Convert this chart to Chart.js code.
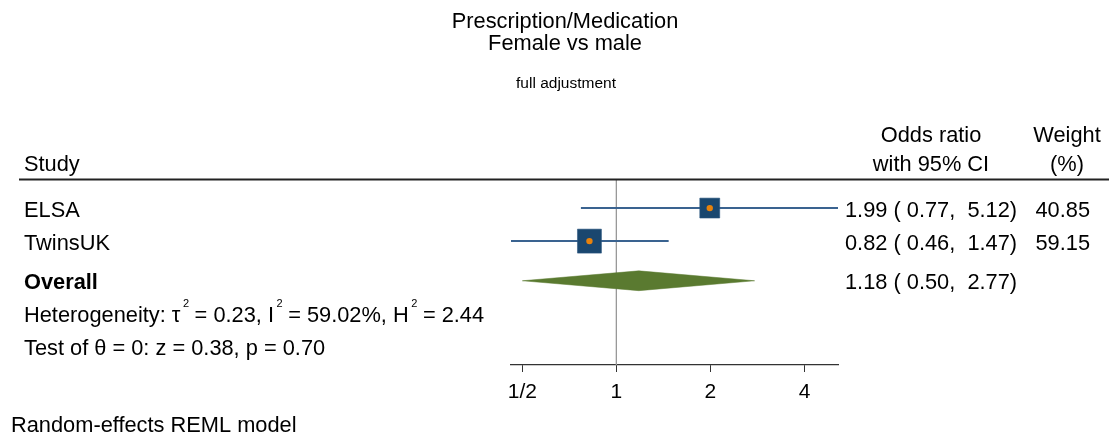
<!DOCTYPE html>
<html>
<head>
<meta charset="utf-8">
<script src="https://cdn.jsdelivr.net/npm/chart.js@4.4.1/dist/chart.umd.min.js"></script>
<style>
  html, body { margin: 0; padding: 0; background: #fff; }
  #wrap { width: 1109px; height: 440px; }
</style>
</head>
<body>
<div id="wrap"><canvas id="forest"></canvas></div>
<script>
// study rows
const studies = ['ELSA', 'TwinsUK'];
const oddsRatio = [1.99, 0.82];
const ciLow = [0.77, 0.46];
const ciHigh = [5.12, 1.47];
const weights = [40.85, 59.15];

// pooled estimate
const overallOR = 1.18;
const overallLow = 0.50;
const overallHigh = 2.77;

// heterogeneity + test stats
const tau2 = '0.23', iSq = '59.02', hSq = '2.44';
const zStat = '0.38', pValue = '0.70';

// axis
const tickValues = [0.5, 1, 2, 4];
const tickLabels = ['1/2', '1', '2', '4'];
const xMin = 0.46, xMax = 5.12;

const FONT = '"Liberation Sans", Arial, sans-serif';
const NAVY = '#1a476f';
const LINE_BLUE = '#3a6390';
const ORANGE = '#e8820c';
const GREEN = '#5a7a30';

const rowY = [1, 2];
const overallRow = 3.2;

function ciDataset(i) {
  return {
    type: 'scatter',
    data: [{ x: ciLow[i], y: rowY[i] }, { x: ciHigh[i], y: rowY[i] }],
    showLine: true,
    borderColor: LINE_BLUE,
    borderWidth: 2,
    pointRadius: 0,
    order: 4
  };
}

const datasets = [
  {
    // reference line at OR = 1
    type: 'scatter',
    data: [{ x: 1, y: 0.15 }, { x: 1, y: 5.75 }],
    showLine: true,
    borderColor: '#9a9a9a',
    borderWidth: 1,
    pointRadius: 0,
    order: 6
  },
  ...studies.map((s, i) => ciDataset(i)),
  {
    // overall diamond
    type: 'scatter',
    data: [
      { x: overallLow, y: overallRow },
      { x: overallOR, y: overallRow - 0.3 },
      { x: overallHigh, y: overallRow },
      { x: overallOR, y: overallRow + 0.3 },
      { x: overallLow, y: overallRow }
    ],
    showLine: true,
    fill: 'shape',
    backgroundColor: GREEN,
    borderColor: GREEN,
    borderWidth: 0.5,
    tension: 0,
    pointRadius: 0,
    order: 3
  },
  {
    // weight squares
    type: 'scatter',
    data: studies.map((s, i) => ({ x: oddsRatio[i], y: rowY[i] })),
    pointStyle: 'rect',
    pointRadius: weights.map(w => 2.2 * Math.sqrt(w)),
    backgroundColor: NAVY,
    borderColor: '#2c5680',
    borderWidth: 0.6,
    order: 2
  },
  {
    type: 'scatter',
    data: studies.map((s, i) => ({ x: oddsRatio[i], y: rowY[i] })),
    pointRadius: 3.2,
    backgroundColor: ORANGE,
    borderWidth: 0,
    order: 1
  }
];

function drawText(ctx, str, x, y, size, align, bold) {
  ctx.font = (bold ? 'bold ' : '') + size + 'px ' + FONT;
  ctx.textAlign = align || 'left';
  ctx.textBaseline = 'alphabetic';
  ctx.fillText(str, x, y);
}

// text with superscripts: pieces = [[text, isSup], ...]
function drawRich(ctx, pieces, x, y, size) {
  let cx = x;
  ctx.textAlign = 'left';
  ctx.textBaseline = 'alphabetic';
  pieces.forEach(([t, sup]) => {
    if (sup) {
      ctx.font = '11px ' + FONT;
      ctx.fillText(t, cx + 2.5, y - 14.5);
      cx += ctx.measureText(t).width + 2;
    } else {
      ctx.font = size + 'px ' + FONT;
      ctx.fillText(t, cx, y);
      cx += ctx.measureText(t).width;
    }
  });
}

const textPlugin = {
  id: 'forestText',
  afterDraw(chart) {
    const ctx = chart.ctx;
    const y = chart.scales.y;
    const area = chart.chartArea;
    const fs = 21.8;
    ctx.save();
    ctx.fillStyle = '#000';

    drawText(ctx, 'Prescription/Medication', 565, 28, fs, 'center');
    drawText(ctx, 'Female vs male', 565, 50, fs, 'center');
    drawText(ctx, 'full adjustment', 566, 88, 15.5, 'center');

    drawText(ctx, 'Odds ratio', 931, 142, fs, 'center');
    drawText(ctx, 'with 95% CI', 931, 171, fs, 'center');
    drawText(ctx, 'Weight', 1067, 142, fs, 'center');
    drawText(ctx, '(%)', 1067, 171, fs, 'center');
    drawText(ctx, 'Study', 24, 171, fs, 'left');

    // header rule
    ctx.strokeStyle = '#222';
    ctx.lineWidth = 2;
    ctx.beginPath();
    ctx.moveTo(19, area.top - 0.5);
    ctx.lineTo(1109, area.top - 0.5);
    ctx.stroke();

    studies.forEach((s, i) => {
      const py = y.getPixelForValue(rowY[i]) + 8.5;
      drawText(ctx, s, 24, py, fs, 'left');
      const est = oddsRatio[i].toFixed(2) + ' ( ' + ciLow[i].toFixed(2) + ',  ' + ciHigh[i].toFixed(2) + ')';
      drawText(ctx, est, 845, py, fs, 'left');
      drawText(ctx, weights[i].toFixed(2), 1090, py, fs, 'right');
    });

    const oy = y.getPixelForValue(overallRow) + 8;
    drawText(ctx, 'Overall', 24, oy, fs, 'left', true);
    drawText(ctx, overallOR.toFixed(2) + ' ( ' + overallLow.toFixed(2) + ',  ' + overallHigh.toFixed(2) + ')', 845, oy, fs, 'left');

    drawRich(ctx, [
      ['Heterogeneity: \u03c4', false], ['2', true],
      [' = ' + tau2 + ', I', false], ['2', true],
      [' = ' + iSq + '%, H', false], ['2', true],
      [' = ' + hSq, false]
    ], 24, y.getPixelForValue(4.2) + 8, fs);

    drawText(ctx, 'Test of \u03b8 = 0: z = ' + zStat + ', p = ' + pValue, 24, y.getPixelForValue(5.2) + 8, fs, 'left');

    drawText(ctx, 'Random-effects REML model', 11, 432, fs, 'left');
    ctx.restore();
  }
};

new Chart(document.getElementById('forest'), {
  type: 'scatter',
  data: { datasets: datasets },
  plugins: [textPlugin],
  options: {
    responsive: true,
    maintainAspectRatio: false,
    animation: false,
    events: [],
    layout: { padding: { left: 511, right: 271, top: 180, bottom: 0 } },
    plugins: {
      legend: { display: false },
      tooltip: { enabled: false }
    },
    scales: {
      x: {
        type: 'logarithmic',
        min: xMin,
        max: xMax,
        bounds: 'data',
        afterBuildTicks: (axis) => {
          axis.ticks = tickValues.map(v => ({ value: v }));
        },
        afterFit: (scale) => { scale.height = 75; },
        ticks: {
          color: '#000',
          font: { family: FONT, size: 21 },
          padding: 8,
          maxRotation: 0,
          autoSkip: false,
          callback: (val, idx) => tickLabels[idx]
        },
        grid: {
          drawOnChartArea: false,
          drawTicks: true,
          tickLength: 7,
          color: '#333',
          lineWidth: 1
        },
        border: { display: true, color: '#333', width: 1.2 }
      },
      y: {
        type: 'linear',
        display: false,
        reverse: true,
        min: 0.15,
        max: 5.75
      }
    }
  }
});
</script>
</body>
</html>
